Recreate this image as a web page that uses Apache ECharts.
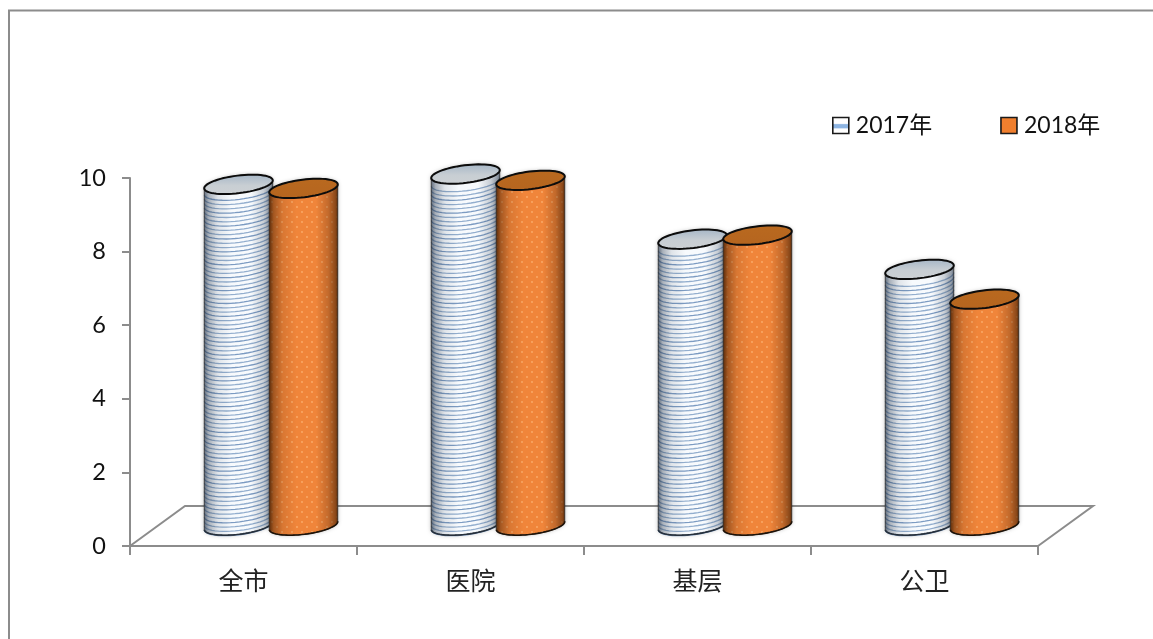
<!DOCTYPE html>
<html><head><meta charset="utf-8">
<style>html,body{margin:0;padding:0;background:#fff}#c{width:1153px;height:639px}</style>
<script src="https://cdn.jsdelivr.net/npm/echarts@6/dist/echarts.min.js"></script>
</head><body><div id="c"></div>
<script>
const categories = ['全市', '医院', '基层', '公卫'];
const seriesNames = ['2017年', '2018年'];
const values2017 = [9.27, 9.55, 7.78, 6.96];
const values2018 = [9.16, 9.38, 7.89, 6.15];
const yTicks = { min: 0, max: 10, interval: 2 };

const DEPTH_X = 27.5, DEPTH_Y = -20.5, RX = 34.5, RY = 8.8, TILT = 7 * Math.PI / 180, SHIFT = 32.5;
const LATIN = 'Lato, "Noto Sans CJK SC", sans-serif';
const CJK = '"Noto Sans CJK SC", sans-serif';

function dotPattern() {
  const c = document.createElement('canvas');
  c.width = 10; c.height = 10;
  const g = c.getContext('2d');
  g.fillStyle = '#F0853A';
  g.fillRect(0, 0, 10, 10);
  g.fillStyle = 'rgba(255,190,130,.7)';
  [[2, 2], [7, 7]].forEach(p => { g.beginPath(); g.arc(p[0], p[1], 0.9, 0, 7); g.fill(); });
  return { image: c, repeat: 'repeat' };
}
const orangeFill = dotPattern();

function pt(cx, cy, t) {
  const ca = Math.cos(TILT), sa = Math.sin(TILT), x = RX * Math.cos(t), y = RY * Math.sin(t);
  return [cx + x * ca + y * sa, cy - x * sa + y * ca];
}
function arc(cx, cy, a, b, n) {
  const r = [];
  for (let i = 0; i <= n; i++) r.push(pt(cx, cy, a + (b - a) * i / n));
  return r;
}
function lin(x, y, x2, y2, stops) {
  return { type: 'linear', x, y, x2, y2, colorStops: stops.map(s => ({ offset: s[0], color: s[1] })) };
}
const shade = (r, a) => 'rgba(' + r + ',' + a + ')';
const edgeShade = (rgb, a) => lin(0, 0, 1, 0, [[0, shade(rgb, a)], [.07, shade(rgb, a * .5)], [.2, shade(rgb, a * .15)], [.4, shade(rgb, 0)], [.68, shade(rgb, 0)], [.86, shade(rgb, a * .3)], [.96, shade(rgb, a * .65)], [1, shade(rgb, a)]]);

function cylinder(kind) {
  return function (params, api) {
    const i = api.value(0), v = api.value(1);
    const off = kind === 0 ? -SHIFT : SHIFT;
    const base = api.coord([i, 0]), top = api.coord([i, v]);
    const cx = base[0] + DEPTH_X + off, by = base[1] + DEPTH_Y, ty = top[1] + DEPTH_Y;
    const body = arc(cx, by, 0, Math.PI, 36).concat(arc(cx, ty, Math.PI, 2 * Math.PI, 36));
    const kids = [];
    kids.push({
      type: 'polygon', shape: { points: body },
      style: { fill: kind === 0 ? '#F7FAFD' : orangeFill, stroke: 'none', shadowBlur: 4, shadowColor: 'rgba(0,0,0,.3)' }
    });
    if (kind === 0) {
      let n = 0;
      for (let y = by + 0.5; y > ty + 4; y -= 4.3) {
        kids.push({
          type: 'polyline', shape: { points: arc(cx, y, 0, Math.PI, 24) },
          style: { fill: 'none', stroke: n % 3 === 0 ? '#7C9BC2' : '#93AECE', lineWidth: 1.3 }
        });
        n++;
      }
    }
    kids.push({
      type: 'polygon', shape: { points: body },
      style: { fill: kind === 0 ? edgeShade('40,55,75', .75) : edgeShade('60,25,0', .85), stroke: '#2a2a2a', lineWidth: .8 }
    });
    kids.push({
      type: 'polyline', shape: { points: arc(cx, by, 0, Math.PI, 36) },
      style: { fill: 'none', stroke: kind === 0 ? '#26303c' : '#1d1208', lineWidth: 1.6 }
    });
    kids.push({
      type: 'polygon', shape: { points: arc(cx, ty, 0, 2 * Math.PI, 60) },
      style: {
        fill: kind === 0
          ? lin(0, 0, 0, 1, [[0, '#A4B5C6'], [.55, '#C8CED3'], [1, '#CDD1D4']])
          : lin(0, 0, 0, 1, [[0, '#B9691F'], [1, '#B5651F']]),
        stroke: '#0c0c0c', lineWidth: 2
      }
    });
    return { type: 'group', children: kids };
  };
}

function floor(params) {
  const s = params.coordSys, l = s.x, r = s.x + s.width, b = s.y + s.height;
  return {
    type: 'polyline',
    shape: { points: [[l, b], [l + 55, b - 40], [r + 55, b - 40], [r, b]] },
    style: { fill: 'none', stroke: '#8C8C8C', lineWidth: 2 }
  };
}

const chart = echarts.init(document.getElementById('c'), null, { renderer: 'canvas' });
chart.setOption({
  animation: false,
  backgroundColor: '#fff',
  graphic: [{
    type: 'polyline', silent: true,
    shape: { points: [[9, 639], [9, 10.5], [1153, 10.5]] },
    style: { fill: 'none', stroke: '#8C8C8C', lineWidth: 2 }
  }],
  grid: { left: 130, right: 115, top: 178, bottom: 93, containLabel: false },
  legend: {
    left: 832, top: 114, padding: 0, itemWidth: 16, itemHeight: 16, itemGap: 68, icon: 'rect',
    textStyle: { fontFamily: LATIN, fontSize: 23, color: '#111', padding: [0, 0, 0, 2] },
    data: [
      { name: seriesNames[0], itemStyle: { color: lin(0, 0, 0, 1, [[0, '#fff'], [.38, '#fff'], [.45, '#8DB4E2'], [.62, '#8DB4E2'], [.7, '#fff'], [1, '#fff']]), borderColor: '#1a1a1a', borderWidth: 1.6 } },
      { name: seriesNames[1], itemStyle: { color: '#F07F2E', borderColor: '#1a1a1a', borderWidth: 1.6 } }
    ]
  },
  xAxis: {
    type: 'category', data: categories, boundaryGap: true,
    axisLine: { lineStyle: { color: '#8C8C8C', width: 2 } },
    axisTick: { show: true, alignWithLabel: false, length: 9, lineStyle: { color: '#8C8C8C', width: 2 } },
    axisLabel: { fontFamily: CJK, fontSize: 25, color: '#222', margin: 22 }
  },
  yAxis: {
    type: 'value', min: yTicks.min, max: yTicks.max, interval: yTicks.interval,
    splitLine: { show: false },
    axisLine: { show: true, lineStyle: { color: '#8C8C8C', width: 2 } },
    axisTick: { show: true, length: 8, lineStyle: { color: '#8C8C8C', width: 2 } },
    axisLabel: { fontFamily: LATIN, fontSize: 23.5, color: '#111', margin: 24, padding: [7, 0, 0, 0] }
  },
  series: [
    { type: 'custom', name: 'floor', silent: true, z: 1, renderItem: floor, data: [[0, 0]], encode: { x: 0, y: 1 } },
    { type: 'custom', name: seriesNames[0], z: 2, clip: false, renderItem: cylinder(0), data: values2017.map((v, i) => [i, v]), encode: { x: 0, y: 1 } },
    { type: 'custom', name: seriesNames[1], z: 3, clip: false, renderItem: cylinder(1), data: values2018.map((v, i) => [i, v]), encode: { x: 0, y: 1 } }
  ]
});
</script></body></html>
